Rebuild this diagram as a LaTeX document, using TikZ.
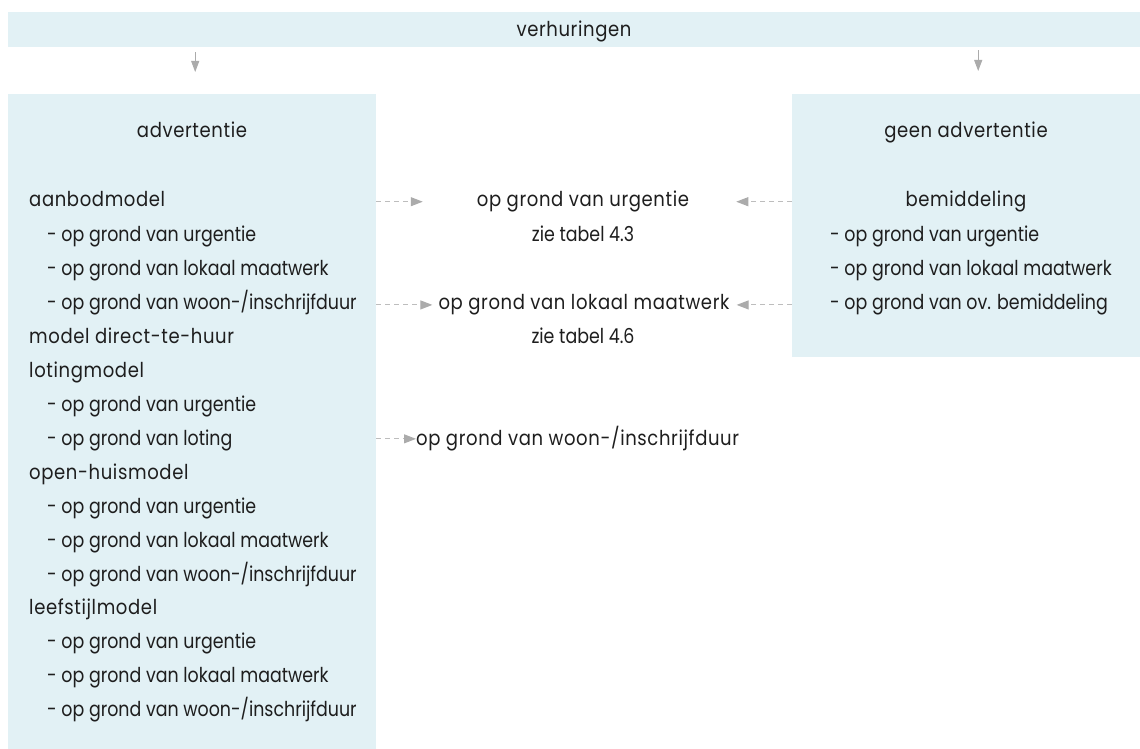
\documentclass[tikz,border=0pt]{standalone}
\usepackage{fontspec}
\setmainfont{Poppins}
\newfontfamily\itemfont[FakeStretch=0.85]{Poppins}
\newfontfamily\headfont[FakeStretch=0.88,LetterSpace=3]{Poppins}
\usetikzlibrary{arrows.meta}
\definecolor{boxfill}{HTML}{E2F1F5}
\definecolor{arrgray}{HTML}{ABABAB}
\definecolor{dashgray}{HTML}{BDBDBD}
\definecolor{txt}{HTML}{1E1E1E}
\begin{document}
\begin{tikzpicture}[x=1pt,y=-1pt,
  panel/.style={fill=boxfill,draw=none,inner sep=0pt,anchor=north west},
  head/.style={font=\headfont\fontsize{20.5}{24}\selectfont,text=txt,inner sep=0pt,anchor=mid,yshift=-4pt},
  lhead/.style={head,anchor=mid west},
  item/.style={font=\itemfont\fontsize{20.5}{24}\selectfont,text=txt,inner sep=0pt,anchor=mid west,yshift=-4pt},
  ref/.style={item,anchor=mid},
  conn/.style={draw=dashgray,line width=1pt,dash pattern=on 5pt off 4pt,-{Triangle[length=12pt,width=9pt,color=arrgray,fill=arrgray]}},
  down/.style={draw=arrgray,line width=1pt,-{Triangle[length=11pt,width=8pt,color=arrgray,fill=arrgray]}}]
\useasboundingbox (0,0) rectangle (1140,749);
% panels
\node[panel,minimum width=1132pt,minimum height=35pt] (top) at (8,12) {};
\node[panel,minimum width=368pt,minimum height=655pt] (adv) at (8,94) {};
\node[panel,minimum width=348pt,minimum height=263pt] (geen) at (792,94) {};
% headings
\node[head] (verh) at (574,30) {verhuringen};
\node[head] (advt) at (192,131) {advertentie};
\node[head] (geent) at (966,131) {geen advertentie};
% left list
\node[lhead] (l1) at (29,200) {aanbodmodel};
\node[item] (l2) at (47,235) {- op grond van urgentie};
\node[item] (l3) at (47,269) {- op grond van lokaal maatwerk};
\node[item] (l4) at (47,303) {- op grond van woon-/inschrijfduur};
\node[lhead] (l5) at (29,337) {model direct-te-huur};
\node[lhead] (l6) at (29,371) {lotingmodel};
\node[item] (l7) at (47,405) {- op grond van urgentie};
\node[item] (l8) at (47,439) {- op grond van loting};
\node[lhead] (l9) at (29,473) {open-huismodel};
\node[item] (l10) at (47,507) {- op grond van urgentie};
\node[item] (l11) at (47,541) {- op grond van lokaal maatwerk};
\node[item] (l12) at (47,575) {- op grond van woon-/inschrijfduur};
\node[lhead] (l13) at (29,608) {leefstijlmodel};
\node[item] (l14) at (47,642) {- op grond van urgentie};
\node[item] (l15) at (47,676) {- op grond van lokaal maatwerk};
\node[item] (l16) at (47,710) {- op grond van woon-/inschrijfduur};
% middle
\node[head] (m1) at (583,200) {op grond van urgentie};
\node[ref] (m1t) at (583,235) {zie tabel 4.3};
\node[head] (m2) at (584,303) {op grond van lokaal maatwerk};
\node[ref] (m2t) at (583,337) {zie tabel 4.6};
\node[lhead] (m3) at (416,439) {op grond van woon-/inschrijfduur};
% right list
\node[head] (r0) at (966,200) {bemiddeling};
\node[item] (r1) at (830,235) {- op grond van urgentie};
\node[item] (r2) at (830,269) {- op grond van lokaal maatwerk};
\node[item] (r3) at (830,303) {- op grond van ov. bemiddeling};
% connectors
\draw[down] ([xshift=3pt,yshift=-5pt]top.south -| adv.north) -- ([xshift=3pt,yshift=22pt]adv.north);
\draw[down] ([xshift=12pt,yshift=-3pt]top.south -| geen.north) -- ([xshift=12pt,yshift=23pt]geen.north);
\draw[conn] (adv.east |- m1) -- ([xshift=-54pt]m1.west);
\draw[conn] (geen.west |- m1) -- ([xshift=47pt]m1.east);
\draw[conn] (adv.east |- m2) -- ([xshift=-6pt]m2.west);
\draw[conn] (geen.west |- m2) -- ([xshift=7pt]m2.east);
\draw[conn] (adv.east |- m3) -- (m3.west);
\end{tikzpicture}
\end{document}
